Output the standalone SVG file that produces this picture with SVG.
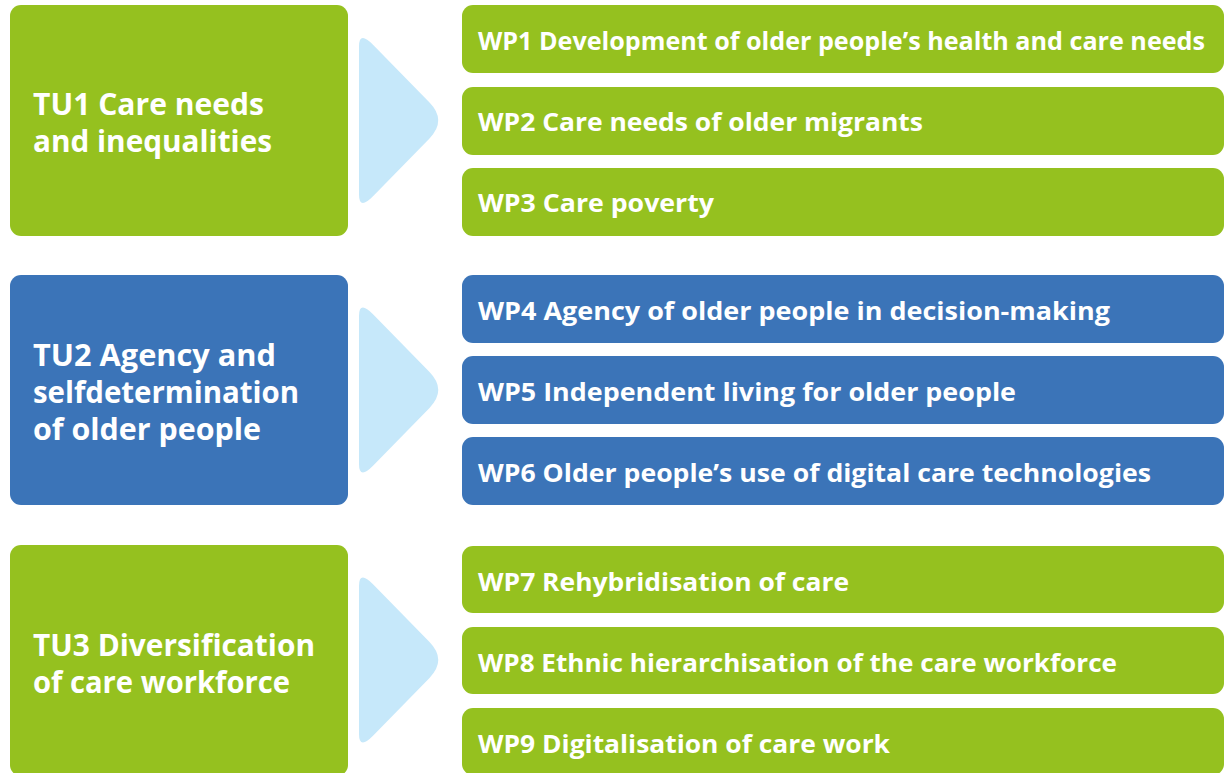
<svg xmlns="http://www.w3.org/2000/svg" width="1224" height="773" viewBox="0 0 1224 773">
  <style>
    .green { fill: #95C11F; }
    .blue { fill: #3B74B8; }
    .arrow { fill: #C6E8FA; }
    .tu { font-family: "Open Sans", "Liberation Sans", sans-serif; font-weight: 700; font-size: 30px; fill: #FFFFFF; }
    .wp { font-family: "Open Sans", "Liberation Sans", sans-serif; font-weight: 700; font-size: 25.5px; fill: #FFFFFF; }
  </style>
  <defs>
    <!-- rounded chevron pointing right, centred on y = 0 -->
    <path id="chevron" d="M359,-74 Q359,-90 373,-75.7 L429.5,-17.9 Q447,0 429.5,17.9 L373,75.7 Q359,90 359,74 Z"/>
  </defs>

  <rect width="1224" height="773" fill="#FFFFFF"/>

  <!-- connectors: chevrons linking each theme unit to its work packages -->
  <g id="connectors" class="arrow">
    <use href="#chevron" transform="translate(0,120.5)"/>
    <use href="#chevron" transform="translate(0,390)"/>
    <use href="#chevron" transform="translate(0,660)"/>
  </g>

  <!-- Theme unit 1 -->
  <g id="tu1">
    <rect class="green" x="10" y="5" width="338" height="231" rx="11"/>
    <text class="tu" x="33" y="114.5" textLength="231" lengthAdjust="spacingAndGlyphs">TU1 Care needs</text>
    <text class="tu" x="33" y="151.5" textLength="239" lengthAdjust="spacingAndGlyphs">and inequalities</text>
  </g>
  <g id="wp1">
    <rect class="green" x="462" y="5" width="762" height="68" rx="11"/>
    <text class="wp" x="478" y="49.5" textLength="727" lengthAdjust="spacingAndGlyphs">WP1 Development of older people’s health and care needs</text>
  </g>
  <g id="wp2">
    <rect class="green" x="462" y="87" width="762" height="68" rx="11"/>
    <text class="wp" x="478" y="130.5" textLength="445" lengthAdjust="spacingAndGlyphs">WP2 Care needs of older migrants</text>
  </g>
  <g id="wp3">
    <rect class="green" x="462" y="168" width="762" height="68" rx="11"/>
    <text class="wp" x="478" y="211.5" textLength="236" lengthAdjust="spacingAndGlyphs">WP3 Care poverty</text>
  </g>

  <!-- Theme unit 2 -->
  <g id="tu2">
    <rect class="blue" x="10" y="275" width="338" height="230" rx="11"/>
    <text class="tu" x="33" y="365.5" textLength="243" lengthAdjust="spacingAndGlyphs">TU2 Agency and</text>
    <text class="tu" x="33" y="402.5" textLength="266" lengthAdjust="spacingAndGlyphs">selfdetermination</text>
    <text class="tu" x="33" y="439.5" textLength="228" lengthAdjust="spacingAndGlyphs">of older people</text>
  </g>
  <g id="wp4">
    <rect class="blue" x="462" y="275" width="762" height="68" rx="11"/>
    <text class="wp" x="478" y="319.5" textLength="632" lengthAdjust="spacingAndGlyphs">WP4 Agency of older people in decision-making</text>
  </g>
  <g id="wp5">
    <rect class="blue" x="462" y="356" width="762" height="68" rx="11"/>
    <text class="wp" x="478" y="400.5" textLength="538" lengthAdjust="spacingAndGlyphs">WP5 Independent living for older people</text>
  </g>
  <g id="wp6">
    <rect class="blue" x="462" y="437" width="762" height="68" rx="11"/>
    <text class="wp" x="478" y="481.5" textLength="673" lengthAdjust="spacingAndGlyphs">WP6 Older people’s use of digital care technologies</text>
  </g>

  <!-- Theme unit 3 -->
  <g id="tu3">
    <rect class="green" x="10" y="545" width="338" height="231" rx="11"/>
    <text class="tu" x="33" y="656" textLength="282" lengthAdjust="spacingAndGlyphs">TU3 Diversification</text>
    <text class="tu" x="33" y="693" textLength="257" lengthAdjust="spacingAndGlyphs">of care workforce</text>
  </g>
  <g id="wp7">
    <rect class="green" x="462" y="546" width="762" height="67" rx="11"/>
    <text class="wp" x="478" y="590.5" textLength="371" lengthAdjust="spacingAndGlyphs">WP7 Rehybridisation of care</text>
  </g>
  <g id="wp8">
    <rect class="green" x="462" y="627" width="762" height="67" rx="11"/>
    <text class="wp" x="478" y="671.5" textLength="639" lengthAdjust="spacingAndGlyphs">WP8 Ethnic hierarchisation of the care workforce</text>
  </g>
  <g id="wp9">
    <rect class="green" x="462" y="708" width="762" height="67" rx="11"/>
    <text class="wp" x="478" y="752.5" textLength="412" lengthAdjust="spacingAndGlyphs">WP9 Digitalisation of care work</text>
  </g>
</svg>
